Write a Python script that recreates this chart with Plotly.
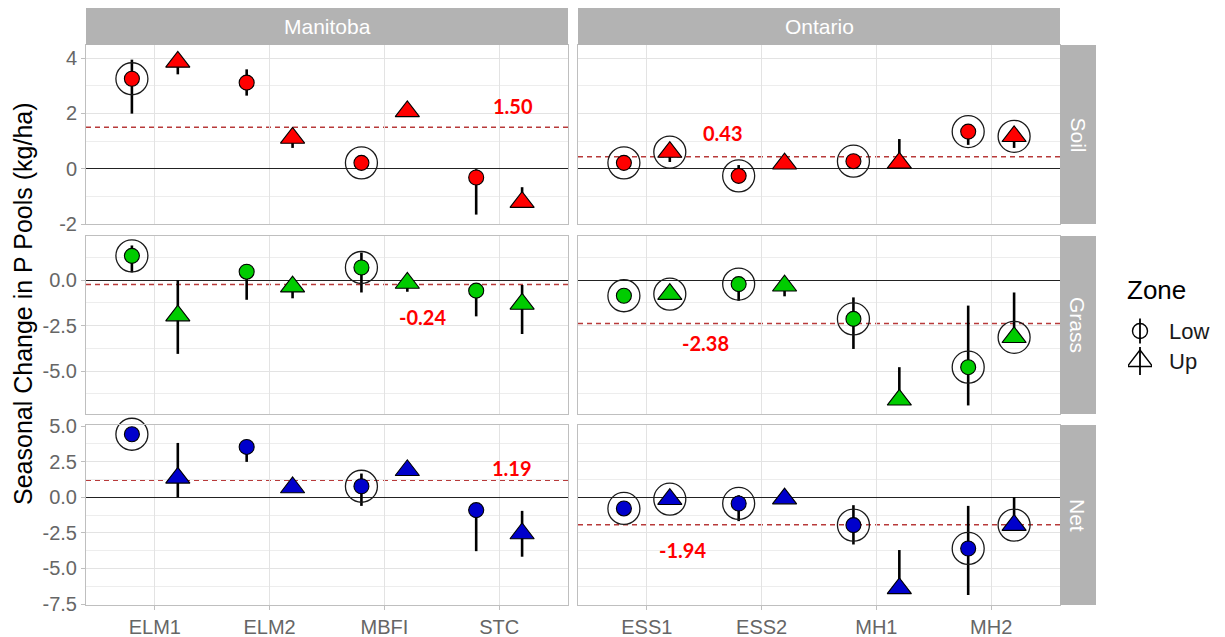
import plotly.graph_objects as go
from plotly.subplots import make_subplots

# ---------------- data ----------------
provinces = ["Manitoba", "Ontario"]
manitoba_sites = ["ELM1", "ELM2", "MBFI", "STC"]
ontario_sites = ["ESS1", "ESS2", "MH1", "MH2"]
pools = ["Soil", "Grass", "Net"]
zones = ["Low", "Up"]

# order: ELM1, ELM2, MBFI, STC, ESS1, ESS2, MH1, MH2
soil_low = [3.25, 3.11, 0.21, -0.32, 0.21, -0.26, 0.27, 1.34]
soil_low_lo = [1.99, 2.64, 0.08, -1.66, 0.12, -0.36, 0.17, 0.86]
soil_low_hi = [3.94, 3.59, 0.32, -0.02, 0.30, 0.13, 0.37, 1.45]
soil_up = [3.86, 1.11, 2.07, -1.21, 0.60, 0.18, 0.21, 1.17]
soil_up_lo = [3.41, 0.75, 1.97, -1.33, 0.24, 0.10, 0.12, 0.75]
soil_up_hi = [4.10, 1.25, 2.17, -0.67, 0.72, 0.28, 1.07, 1.28]

grass_low = [1.33, 0.46, 0.69, -0.58, -0.86, -0.22, -2.13, -4.78]
grass_low_lo = [0.42, -1.08, -0.68, -1.99, -1.00, -1.13, -3.78, -6.88]
grass_low_hi = [1.90, 0.88, 1.51, -0.40, -0.72, 0.00, -0.95, -1.40]
grass_up = [-1.95, -0.36, -0.16, -1.31, -0.77, -0.31, -6.57, -3.14]
grass_up_lo = [-4.05, -1.00, -0.64, -2.96, -0.90, -0.89, -6.70, -3.30]
grass_up_hi = [0.00, -0.15, 0.05, -0.27, -0.62, -0.12, -4.78, -0.68]

net_low = [4.42, 3.53, 0.77, -0.91, -0.79, -0.44, -1.96, -3.60]
net_low_lo = [4.28, 2.48, -0.61, -3.79, -0.95, -1.68, -3.32, -6.87]
net_low_hi = [4.58, 3.70, 1.66, -0.72, -0.62, 0.14, -0.56, -0.61]
net_up = [1.36, 0.68, 1.89, -2.55, -0.14, -0.10, -6.40, -1.96]
net_up_lo = [0.00, 0.55, 1.75, -4.18, -0.30, -0.25, -6.55, -2.10]
net_up_hi = [3.81, 0.82, 2.03, -0.96, 0.02, 0.05, -3.71, 0.00]

# significance circles (same sites flagged in every pool)
sig_low = [1, 0, 1, 0, 1, 1, 1, 1]
sig_up = [0, 0, 0, 0, 1, 0, 0, 1]

# province means per pool: [Manitoba, Ontario]
soil_mean = [1.50, 0.43]
grass_mean = [-0.24, -2.38]
net_mean = [1.19, -1.94]
mean_labels = {"Soil": ["1.50", "0.43"], "Grass": ["-0.24", "-2.38"], "Net": ["1.19", "-1.94"]}

# y tick labels
soil_ticks = [-2, 0, 2, 4]
soil_tick_text = ["-2", "0", "2", "4"]
grass_ticks = [-5.0, -2.5, 0.0]
grass_tick_text = ["-5.0", "-2.5", "0.0"]
net_ticks = [-7.5, -5.0, -2.5, 0.0, 2.5, 5.0]
net_tick_text = ["-7.5", "-5.0", "-2.5", "0.0", "2.5", "5.0"]

# ---------------- styling / layout ----------------
W, H = 1225, 637
pool_colors = {"Soil": "#FF0000", "Grass": "#00CC00", "Net": "#0000CC"}
pool_data = {
    "Soil": dict(Low=(soil_low, soil_low_lo, soil_low_hi), Up=(soil_up, soil_up_lo, soil_up_hi),
                 mean=soil_mean, ticks=(soil_ticks, soil_tick_text), rng=[-2.0, 4.47], minor=1.0),
    "Grass": dict(Low=(grass_low, grass_low_lo, grass_low_hi), Up=(grass_up, grass_up_lo, grass_up_hi),
                  mean=grass_mean, ticks=(grass_ticks, grass_tick_text), rng=[-7.35, 2.42], minor=1.25),
    "Net": dict(Low=(net_low, net_low_lo, net_low_hi), Up=(net_up, net_up_lo, net_up_hi),
                mean=net_mean, ticks=(net_ticks, net_tick_text), rng=[-7.57, 5.07], minor=1.25),
}
# label positions (data coords) for the mean annotations
label_pos = {"Soil": [(3.12, 2.27), (0.66, 1.30)],
             "Grass": [(2.33, -2.00), (0.51, -3.45)],
             "Net": [(3.11, 2.03), (0.31, -3.71)]}

# screen pixel geometry
col_px = [(86, 568), (578, 1060)]
row_px = [(45, 224), (236, 414), (425, 605)]
strip_top = 8
rstrip = (1060, 1096)

def px(a):
    return a / W

def py(a):
    return 1 - a / H

def xd(a, b):
    return [px(a), px(b)]

def yd(top, bottom):
    return [py(bottom), py(top)]

dodge = {"Low": -0.2, "Up": 0.2}
symbols = {"Low": ("circle", 15), "Up": ("triangle-up", 21)}

fig = make_subplots(rows=3, cols=2)

font_main = "Liberation Sans, Arial, sans-serif"
grid_c = "#E3E3E3"
minor_c = "#EDEDED"
border_c = "#BFBFBF"
tick_c = "#666666"

for r, pool in enumerate(pools):
    d = pool_data[pool]
    for c, prov in enumerate(provinces):
        sites = manitoba_sites if c == 0 else ontario_sites
        s0 = 4 * c
        for zone in zones:
            vals, lo, hi = d[zone]
            v = vals[s0:s0 + 4]
            l = lo[s0:s0 + 4]
            h = hi[s0:s0 + 4]
            xs = [i + dodge[zone] for i in range(len(sites))]
            sym, sz = symbols[zone]
            fig.add_trace(go.Scatter(
                x=xs, y=v, mode="markers", showlegend=False, cliponaxis=False,
                marker=dict(symbol=sym, size=sz, color=pool_colors[pool],
                            line=dict(color="black", width=1.1)),
                error_y=dict(type="data", symmetric=False,
                             array=[hh - vv for hh, vv in zip(h, v)],
                             arrayminus=[vv - ll for vv, ll in zip(v, l)],
                             color="black", thickness=2.6, width=0),
                hoverinfo="skip"), row=r + 1, col=c + 1)
        # significance circles
        cx, cy = [], []
        for zone, sig in (("Low", sig_low), ("Up", sig_up)):
            vals = d[zone][0]
            for i in range(4):
                if sig[s0 + i]:
                    cx.append(i + dodge[zone])
                    cy.append(vals[s0 + i])
        fig.add_trace(go.Scatter(
            x=cx, y=cy, mode="markers", showlegend=False, hoverinfo="skip", cliponaxis=False,
            marker=dict(symbol="circle-open", size=32, color="#1A1A1A", line=dict(width=1.3))),
            row=r + 1, col=c + 1)
        # mean line
        fig.add_hline(y=d["mean"][c], row=r + 1, col=c + 1, layer="below",
                      line=dict(color="#B83A3A", width=1.5, dash="5px,4px"))
        lx, ly = label_pos[pool][c]
        n = r * 2 + c + 1
        xref = "x" if n == 1 else f"x{n}"
        yref = "y" if n == 1 else f"y{n}"
        fig.add_annotation(x=lx, y=ly, xref=xref, yref=yref, text=mean_labels[pool][c],
                           showarrow=False,
                           font=dict(family="Lato, sans-serif", size=20, color="#FF0000", weight="bold"),
                           xanchor="center", yanchor="middle")
        # axes
        fig.update_xaxes(row=r + 1, col=c + 1, domain=xd(*col_px[c]), range=[-0.6, 3.6],
                         tickmode="array", tickvals=list(range(4)), ticktext=sites,
                         showticklabels=(r == 2), ticks="outside" if r == 2 else "",
                         ticklen=4, tickcolor=border_c, automargin=False,
                         tickfont=dict(family=font_main, size=20, color=tick_c),
                         showgrid=True, gridcolor=grid_c, gridwidth=1,
                         showline=True, mirror=True, linecolor=border_c, linewidth=1,
                         zeroline=False, fixedrange=True)
        tv, tt = d["ticks"]
        fig.update_yaxes(row=r + 1, col=c + 1, domain=yd(*row_px[r]), range=d["rng"],
                         tickmode="array", tickvals=tv, ticktext=tt,
                         showticklabels=(c == 0), ticks="outside" if c == 0 else "",
                         ticklen=4, tickcolor=border_c, automargin=False,
                         tickfont=dict(family=font_main, size=20, color=tick_c),
                         showgrid=True, gridcolor=grid_c, gridwidth=1,
                         minor=dict(dtick=d["minor"], tick0=0, showgrid=True, gridcolor=minor_c, gridwidth=1),
                         showline=True, mirror=True, linecolor=border_c, linewidth=1,
                         zeroline=True, zerolinecolor="#222222", zerolinewidth=1.4, fixedrange=True)

shapes = []
annotations = []
# column strips
for c, prov in enumerate(provinces):
    a, b = col_px[c]
    shapes.append(dict(type="rect", xref="paper", yref="paper", x0=px(a), x1=px(b),
                       y0=py(row_px[0][0]), y1=py(strip_top),
                       fillcolor="#B3B3B3", line=dict(width=0), layer="above"))
    annotations.append(dict(x=px((a + b) / 2), y=py((strip_top + row_px[0][0]) / 2), xref="paper", yref="paper",
                            xanchor="center", yanchor="middle",
                            text=prov, showarrow=False, font=dict(family=font_main, size=21, color="white")))
# row strips
for r, pool in enumerate(pools):
    t, btm = row_px[r]
    shapes.append(dict(type="rect", xref="paper", yref="paper", x0=px(rstrip[0]), x1=px(rstrip[1]),
                       y0=py(btm), y1=py(t),
                       fillcolor="#B3B3B3", line=dict(width=0), layer="above"))
    annotations.append(dict(x=px((rstrip[0] + rstrip[1]) / 2), y=py((t + btm) / 2), xref="paper", yref="paper",
                            xanchor="center", yanchor="middle",
                            text=pool, textangle=90, showarrow=False,
                            font=dict(family=font_main, size=21, color="white")))
# y axis title
annotations.append(dict(x=px(23), y=py(304), xref="paper", yref="paper",
                        xanchor="center", yanchor="middle",
                        text="Seasonal Change in P Pools (kg/ha)", textangle=-90, showarrow=False,
                        font=dict(family=font_main, size=25, color="black")))
# legend title
annotations.append(dict(x=px(1125), y=py(290), xref="paper", yref="paper", xanchor="left", yanchor="middle",
                        text="Zone", showarrow=False, font=dict(family=font_main, size=26, color="black")))

# legend glyphs on a small dedicated axis pair
legend_pos = {"Low": 1, "Up": 0}
for zone in zones:
    sym, sz = symbols[zone]
    fig.add_trace(go.Scatter(
        x=[0], y=[legend_pos[zone]], xaxis="x7", yaxis="y7", mode="markers", showlegend=False, hoverinfo="skip",
        marker=dict(symbol=sym + "-open", size=15 if zone == "Low" else 22, color="black", line=dict(width=1.4)),
        error_y=dict(type="constant", value=0.42 if zone == "Low" else 0.47, color="black", thickness=1.8, width=0)))

fig.update_layout(
    xaxis7=dict(domain=xd(1128, 1152), anchor="y7", range=[-1, 1], visible=False, fixedrange=True,
                automargin=False),
    yaxis7=dict(domain=yd(316, 376), anchor="x7", side="right", range=[-0.5, 1.5],
                tickmode="array", tickvals=[legend_pos[z] for z in zones], ticktext=zones,
                showgrid=False, showline=False, zeroline=False, ticks="", automargin=False,
                ticklabelstandoff=16,
                tickfont=dict(family=font_main, size=22, color="#1A1A1A"), fixedrange=True),
)

fig.update_layout(
    width=W, height=H, margin=dict(l=0, r=0, t=0, b=0, pad=0, autoexpand=False),
    paper_bgcolor="white", plot_bgcolor="white",
    showlegend=False,
    shapes=list(fig.layout.shapes) + shapes,
    annotations=list(fig.layout.annotations) + annotations,
)

fig.write_html(
    "out.html",
    config={"displayModeBar": False},
    post_script="document.documentElement.style.margin='0';document.documentElement.style.padding='0';"
                "document.documentElement.style.overflow='hidden';"
                "document.body.style.margin='0';document.body.style.padding='0';"
                "document.body.style.overflow='hidden';",
)
